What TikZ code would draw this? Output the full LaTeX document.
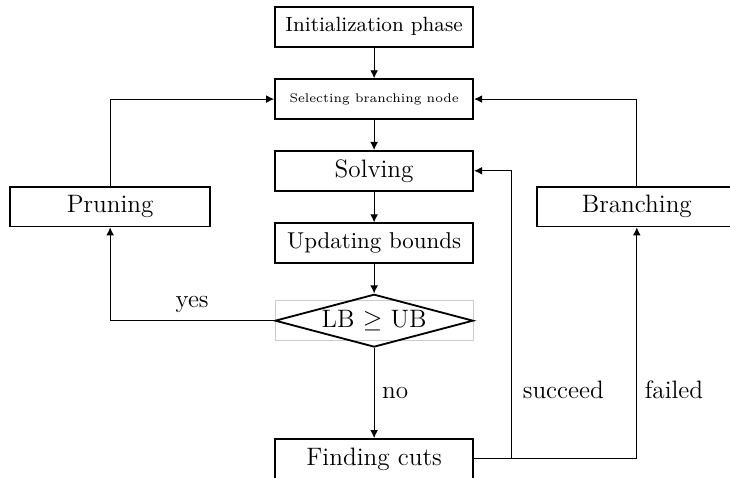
\documentclass[tikz,border=0pt]{standalone}
\usetikzlibrary{arrows.meta, shapes.geometric}

\tikzset{
  stage/.style={draw, thick, rectangle, minimum width=3.04cm, minimum height=0.61cm, inner sep=2pt},
  sidestage/.style={stage, minimum width=3.07cm},
  test/.style={draw, thick, diamond, aspect=3.74, minimum width=3.04cm, minimum height=0.81cm, inner sep=0pt},
  flow/.style={->, thin},
  mid/.style={font=\fontsize{11}{13}\selectfont}
}

\begin{document}
\begin{tikzpicture}[>={Latex[length=3.5pt, width=3.4pt]}]

\path[use as bounding box, clip] (0,0) rectangle (11.2,-7.33);

% main column
\node[stage] (init) at (5.74,-0.41) {\small Initialization phase};
\node[stage] (select) at (5.74,-1.52) {\fontsize{5.5}{6.5}\selectfont Selecting branching node};
\node[stage, mid] (solve) at (5.74,-2.62) {Solving};
\node[stage] (update) at (5.74,-3.73) {Updating bounds};
\node[stage, draw=black!20, thin] (frame) at (5.74,-4.92) {};
\node[test, mid] (bound) at (5.74,-4.92) {LB $\geq$ UB};
\node[stage, mid] (cuts) at (5.74,-7.04) {Finding cuts};

% side boxes
\node[sidestage, mid] (prune) at (1.69,-3.17) {Pruning};
\node[sidestage, mid] (branch) at (9.77,-3.17) {Branching};

\draw[flow] (init) -- (select);
\draw[flow] (select) -- (solve);
\draw[flow] (solve) -- (update);
\draw[flow] (update) -- (bound);
\draw[flow] (bound) -- (cuts) node[mid, midway, right] {no};

\draw[flow] (bound.west) -| (prune.south) node[mid, pos=0.25, above] {yes};
\draw[flow] (prune.north) |- (select.west);
\draw[flow] (branch.north) |- (select.east);

\draw[flow] (cuts.east) -| ([xshift=0.57cm]solve.east) node[mid, pos=0.62, right, xshift=1.5pt] {succeed} -- (solve.east);
\draw[flow] (cuts.east) -| (branch.south) node[mid, pos=0.65, right] {failed};

\end{tikzpicture}
\end{document}
